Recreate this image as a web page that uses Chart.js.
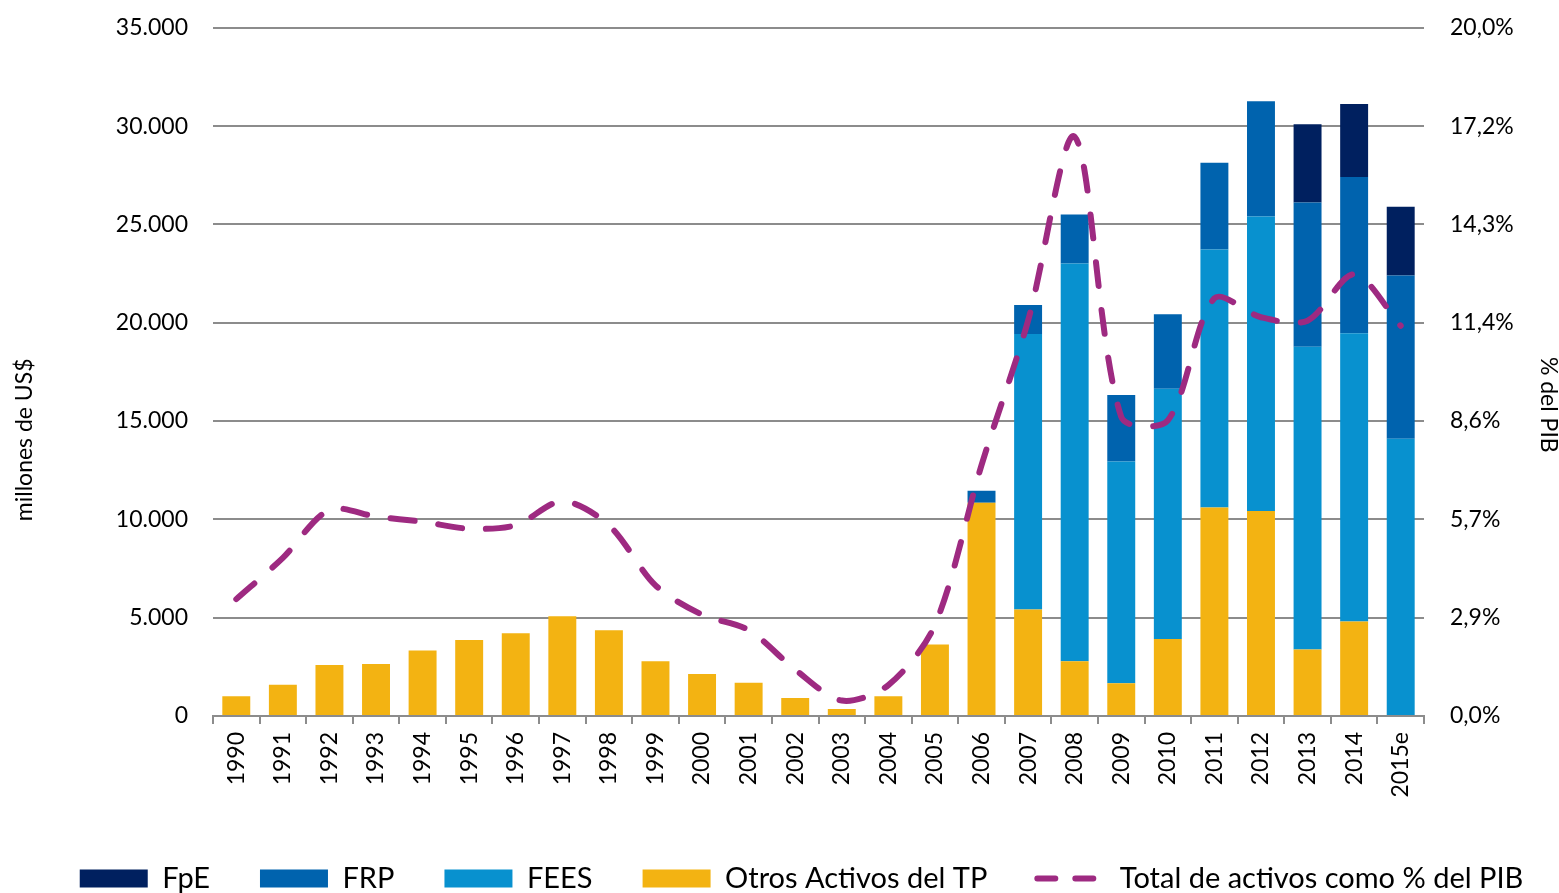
<!DOCTYPE html>
<html>
<head>
<meta charset="utf-8">
<script src="https://cdn.jsdelivr.net/npm/chart.js@4.4.1/dist/chart.umd.min.js"></script>
<style>
html, body { margin: 0; padding: 0; background: #fff; overflow: hidden; }
#wrap { width: 1559px; height: 905px; margin-top: -12px; }
</style>
</head>
<body>
<div id="wrap"><canvas id="activos-chart"></canvas></div>
<script>
// DATA (millones de US$ y % del PIB)
var years = ['1990','1991','1992','1993','1994','1995','1996','1997','1998','1999','2000','2001','2002',
             '2003','2004','2005','2006','2007','2008','2009','2010','2011','2012','2013','2014','2015e'];
var otros = [1010, 1590, 2590, 2640, 3330, 3860, 4210, 5070, 4360, 2790, 2130, 1690, 910,
             360, 1010, 3640, 10840, 5410, 2790, 1660, 3910, 10600, 10420, 3380, 4800, 0];
var fees = [null, null, null, null, null, null, null, null, null, null, null, null, null,
            null, null, null, null, 14020, 20220, 11280, 12730, 13120, 14980, 15400, 14660, 14100];
var frp = [null, null, null, null, null, null, null, null, null, null, null, null, null,
           null, null, null, 620, 1470, 2490, 3390, 3790, 4420, 5860, 7330, 7950, 8300];
var fpe = [null, null, null, null, null, null, null, null, null, null, null, null, null,
           null, null, null, null, null, null, null, null, null, null, 3990, 3720, 3500];
var pib = [3.4, 4.6, 6.0, 5.8, 5.65, 5.45, 5.55, 6.25, 5.55, 3.8, 2.95, 2.5, 1.35,
           0.45, 0.9, 2.65, 7.3, 11.5, 16.85, 8.7, 8.6, 12.15, 11.6, 11.5, 12.85, 11.35];
var leftTicks = [0, 5000, 10000, 15000, 20000, 25000, 30000, 35000];
var rightTicks = [0, 2.86, 5.72, 8.58, 11.44, 14.30, 17.16, 20.02];

var FONT = 'Lato';
var GRID = '#8c8c8c';

// legend order: FpE, FRP, FEES, Otros, linea
var legendRank = [3, 2, 1, 0, 4];

var axisTitles = {
    id: 'axisTitles',
    afterDraw: function (chart) {
        var ctx = chart.ctx;
        var area = chart.chartArea;
        ctx.save();
        ctx.font = '23px ' + FONT;
        ctx.fillStyle = '#000';
        ctx.textAlign = 'center';
        ctx.textBaseline = 'middle';
        ctx.translate(area.left - 188, area.top + 412);
        ctx.rotate(-Math.PI / 2);
        ctx.fillText('millones de US$', 0, 0);
        ctx.restore();
        ctx.save();
        ctx.font = '23px ' + FONT;
        ctx.fillStyle = '#000';
        ctx.textAlign = 'center';
        ctx.textBaseline = 'middle';
        ctx.translate(area.right + 124, area.top + 377);
        ctx.rotate(Math.PI / 2);
        ctx.fillText('% del PIB', 0, 0);
        ctx.restore();
    }
};

// nudge the legend row a bit to the right, like the original
var legendShift = {
    id: 'legendShift',
    afterLayout: function (chart) {
        chart.legend.left += 22;
        chart.legend.right += 22;
    }
};

var ctxNode = document.getElementById('activos-chart').getContext('2d');
var activosChart = new Chart(ctxNode, {
    type: 'bar',
    data: {
        labels: years,
        datasets: [
            { label: 'Otros Activos del TP', data: otros, backgroundColor: '#f3b312', order: 1 },
            { label: 'FEES', data: fees, backgroundColor: '#0891cf', order: 1 },
            { label: 'FRP', data: frp, backgroundColor: '#0063ae', order: 1 },
            { label: 'FpE', data: fpe, backgroundColor: '#00205f', order: 1 },
            {
                type: 'line',
                label: 'Total de activos como % del PIB',
                data: pib,
                yAxisID: 'y1',
                borderColor: '#9e2a81',
                backgroundColor: '#9e2a81',
                borderWidth: 6,
                borderDash: [24, 24],
                borderCapStyle: 'round',
                pointRadius: 0,
                tension: 0.3,
                fill: false,
                order: 0
            }
        ]
    },
    options: {
        responsive: true,
        maintainAspectRatio: false,
        animation: false,
        layout: { padding: { top: 0, right: 0, left: 0, bottom: -10 } },
        datasets: {
            bar: { barPercentage: 0.6, categoryPercentage: 1.0, borderWidth: 0 }
        },
        scales: {
            x: {
                stacked: true,
                grid: { offset: true, drawOnChartArea: false, drawTicks: true, tickLength: 8, color: GRID, lineWidth: 2 },
                border: { display: true, color: GRID, width: 2 },
                ticks: { color: '#000', font: { family: FONT, size: 23 }, minRotation: 90, maxRotation: 90, autoSkip: false, padding: 8 },
                afterFit: function (s) { s.height = 98; }
            },
            y: {
                stacked: true,
                position: 'left',
                min: 0,
                max: 35000,
                grid: { color: GRID, lineWidth: 2, drawTicks: false },
                border: { display: false },
                afterBuildTicks: function (s) { s.ticks = leftTicks.map(function (v) { return { value: v }; }); },
                ticks: {
                    color: '#000', font: { family: FONT, size: 23 }, padding: 25,
                    callback: function (v) { return v === 0 ? '0' : v.toLocaleString('de-DE'); }
                },
                afterFit: function (s) { s.width = 213; }
            },
            y1: {
                position: 'right',
                min: 0,
                max: 20.02,
                grid: { display: false, drawTicks: false },
                border: { display: false },
                afterBuildTicks: function (s) { s.ticks = rightTicks.map(function (v) { return { value: v }; }); },
                ticks: {
                    color: '#000', font: { family: FONT, size: 23 }, padding: 26,
                    callback: function (v) { return v.toFixed(1).replace('.', ',') + '%'; }
                },
                afterFit: function (s) { s.width = 135; }
            }
        },
        plugins: {
            title: { display: false },
            tooltip: { enabled: false },
            legend: {
                display: true,
                position: 'bottom',
                labels: {
                    color: '#000',
                    font: { family: FONT, size: 29 },
                    boxWidth: 68,
                    boxHeight: 18,
                    padding: 50,
                    usePointStyle: true,
                    pointStyleWidth: 68,
                    sort: function (a, b) { return legendRank[a.datasetIndex] - legendRank[b.datasetIndex]; },
                    generateLabels: function (chart) {
                        var items = Chart.defaults.plugins.legend.labels.generateLabels(chart);
                        items.forEach(function (it) {
                            if (it.datasetIndex === 4) {
                                it.pointStyle = 'line';
                                it.lineDash = [18, 20];
                                it.lineCap = 'round';
                                it.lineWidth = 6;
                                it.strokeStyle = '#9e2a81';
                            } else {
                                it.pointStyle = 'rect';
                                it.lineWidth = 0;
                            }
                        });
                        return items;
                    }
                }
            }
        }
    },
    plugins: [axisTitles, legendShift]
});
</script>
</body>
</html>
